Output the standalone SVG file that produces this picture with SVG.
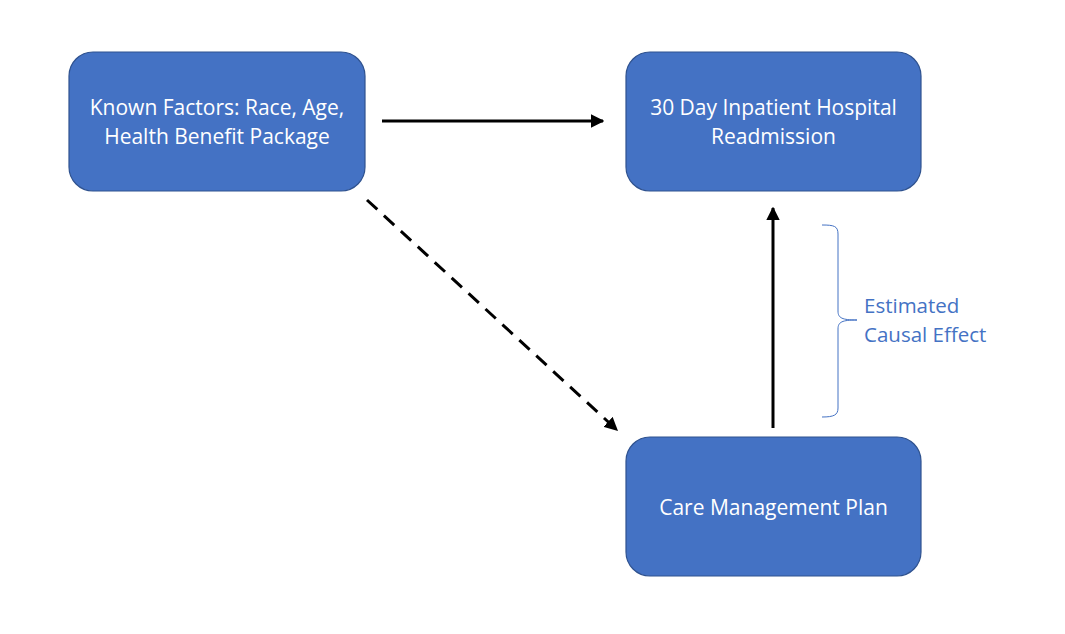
<svg xmlns="http://www.w3.org/2000/svg" width="1065" height="634" viewBox="0 0 1065 634">
<style>
.node{fill:#4472C4;stroke:#2F528F;stroke-width:1.2}
.lbl{font-family:"Open Sans","Liberation Sans",sans-serif;font-size:21px;fill:#fff;text-anchor:middle}
.conn{stroke:#000;stroke-width:3;fill:none}
.note{font-family:"Open Sans","Liberation Sans",sans-serif;font-size:20.5px;fill:#4472C4}
</style>
<defs>
<marker id="ah" viewBox="0 0 10 10" refX="9" refY="5" markerWidth="4.5" markerHeight="4.5" orient="auto" markerUnits="strokeWidth">
<path d="M0,0 L10,5 L0,10 z" fill="#000"/>
</marker>
</defs>
<rect width="1065" height="634" fill="#fff"/>
<g id="known-factors">
<rect class="node" x="69" y="52" width="296" height="139" rx="24"/>
<text class="lbl" x="217" y="115">Known Factors: Race, Age,</text>
<text class="lbl" x="217" y="144">Health Benefit Package</text>
</g>
<g id="readmission">
<rect class="node" x="626" y="52" width="295" height="139" rx="24"/>
<text class="lbl" x="773.5" y="115">30 Day Inpatient Hospital</text>
<text class="lbl" x="773.5" y="144">Readmission</text>
</g>
<g id="care-plan">
<rect class="node" x="626" y="437" width="295" height="139" rx="24"/>
<text class="lbl" x="773.5" y="515">Care Management Plan</text>
</g>
<g id="connectors">
<line class="conn" x1="382" y1="121" x2="603" y2="121" marker-end="url(#ah)"/>
<line class="conn" x1="367" y1="200" x2="617" y2="430" stroke-dasharray="14,9" marker-end="url(#ah)"/>
<line class="conn" x1="773" y1="428" x2="773" y2="208" marker-end="url(#ah)"/>
</g>
<g id="brace">
<path d="M822,225 C834,225 838,226 838,234 L838,311 C838,318 842,320 857,320 C842,320 838,322 838,329 L838,408 C838,415 834,417 822,417" fill="none" stroke="#4472C4" stroke-width="1"/>
<text class="note" x="864" y="313">Estimated</text>
<text class="note" x="864" y="342">Causal Effect</text>
</g>
</svg>
